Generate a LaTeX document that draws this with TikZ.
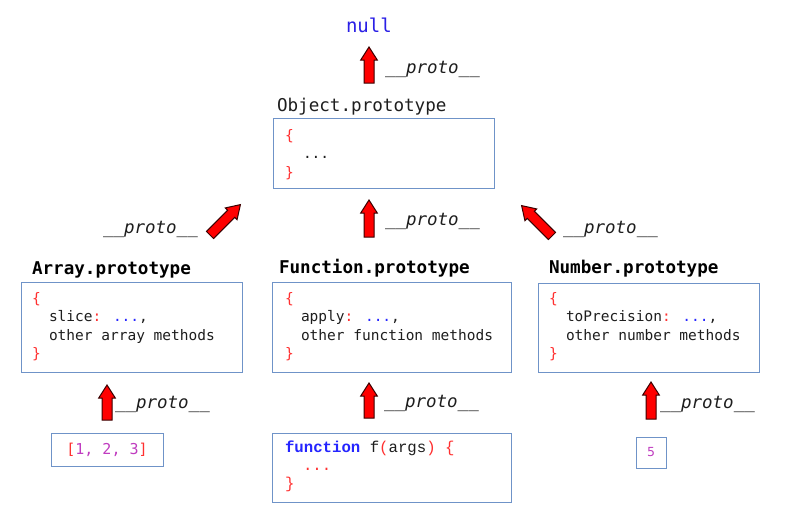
\documentclass[tikz,border=0pt]{standalone}
\usepackage{fontspec}
\setmainfont{DejaVu Sans}
\newfontfamily\mono{DejaVu Sans Mono}
\newfontfamily\cour{Liberation Mono}
\definecolor{boxc}{HTML}{6F93C8}
\definecolor{jred}{HTML}{FF3030}
\definecolor{jblue}{HTML}{2525FF}
\definecolor{nullc}{HTML}{2A1FE6}
\definecolor{jpurp}{HTML}{C03CC0}
\definecolor{txt}{HTML}{1E1E1E}
\definecolor{arrowline}{HTML}{3A0000}
\newcommand\blockarr[3]{%
  \begin{scope}[shift={#1},rotate=#2]
    \draw[arrowst] (0,-5) -- ({#3-13},-5) -- ({#3-13},-8.3) -- (#3,0) -- ({#3-13},8.3) -- ({#3-13},5) -- (0,5) -- cycle;
  \end{scope}}
\begin{document}
\begin{tikzpicture}[x=1pt,y=-1pt,
  every node/.style={inner sep=0pt,outer sep=0pt},
  box/.style={draw=boxc,line width=1pt,fill=white,rectangle,anchor=north west},
  head/.style={font=\mono\fontsize{17.6}{20}\selectfont,anchor=base west,text=txt},
  headb/.style={font=\mono\bfseries\fontsize{17.6}{20}\selectfont,anchor=base west,text=black},
  code/.style={font=\mono\fontsize{14.5}{17}\selectfont,anchor=base west,text=txt},
  ccode/.style={font=\cour\fontsize{15.7}{18}\selectfont,anchor=base west,text=txt},
  proto/.style={font=\mono\itshape\fontsize{17.5}{20}\selectfont,anchor=base west,text=txt},
  arrowst/.style={fill=red,draw=arrowline,line width=1pt,line join=miter}]
\useasboundingbox (0,0) rectangle (790,528);
\fill[white] (0,0) rectangle (790,528);

% null
\node[font=\mono\fontsize{19}{22}\selectfont,anchor=base west,text=nullc] (null) at (346,32) {null};

% Object.prototype
\node[head] (objh) at (277,111) {Object.prototype};
\node[box,minimum width=221,minimum height=70] (objbox) at (273,118) {};
\node[code,text=jred] (o1) at (285,140) {\{};
\node[code] (o2) at (303,158) {...};
\node[code,text=jred] (o3) at (285,177) {\}};

% Array.prototype
\node[headb] (arrh) at (32,274) {Array.prototype};
\node[box,minimum width=221,minimum height=90] (arrbox) at (21,282) {};
\node[code,text=jred] (a1) at (32,303) {\{};
\node[code] (a2) at (49,321.5) {slice\textcolor{jred}{:} \textcolor{jblue}{...},};
\node[code] (a3) at (49,340) {other array methods};
\node[code,text=jred] (a4) at (32,358.5) {\}};

% Function.prototype
\node[headb] (funh) at (279,273) {Function.prototype};
\node[box,minimum width=239,minimum height=90] (funbox) at (272,282) {};
\node[code,text=jred] (f1) at (285,303) {\{};
\node[code] (f2) at (301,321.5) {apply\textcolor{jred}{:} \textcolor{jblue}{...},};
\node[code] (f3) at (301,340) {other function methods};
\node[code,text=jred] (f4) at (285,358.5) {\}};

% Number.prototype
\node[headb] (numh) at (549,273) {Number.prototype};
\node[box,minimum width=221,minimum height=89] (numbox) at (538,283) {};
\node[code,text=jred] (n1) at (549,303) {\{};
\node[code] (n2) at (566,321.5) {toPrecision\textcolor{jred}{:} \textcolor{jblue}{...},};
\node[code] (n3) at (566,340) {other number methods};
\node[code,text=jred] (n4) at (549,358.5) {\}};

% instances
\node[box,minimum width=112,minimum height=33] (arrinst) at (51,433) {};
\node[font=\mono\fontsize{15}{18}\selectfont,text=jpurp] (arrtxt) at (arrinst.center) {\textcolor{jred}{[}1, 2, 3\textcolor{jred}{]}};

\node[box,minimum width=239,minimum height=69] (funinst) at (272,433) {};
\node[ccode] (c1) at (285,452) {\textcolor{jblue}{\bfseries function} f\textcolor{jred}{(}args\textcolor{jred}{)} \textcolor{jred}{\{}};
\node[ccode,text=jred] (c2) at (303,470) {...};
\node[ccode,text=jred] (c3) at (285,488) {\}};

\node[box,minimum width=30,minimum height=31] (numinst) at (636,437) {};
\node[font=\fontsize{12.5}{15}\selectfont,text=jpurp] (numtxt) at (numinst.center) {5};

% arrows
\coordinate (t0) at (369,83);
\coordinate (t1) at (369,237);
\coordinate (t2) at (210,235);
\coordinate (t3) at (552,236);
\coordinate (t4) at (107,420);
\coordinate (t5) at (369,418);
\coordinate (t6) at (651,419);
\blockarr{(t0)}{90}{36}
\blockarr{(t1)}{90}{37}
\blockarr{(t2)}{45}{43}
\blockarr{(t3)}{135}{43}
\blockarr{(t4)}{90}{35}
\blockarr{(t5)}{90}{35}
\blockarr{(t6)}{90}{37}

% labels
\node[proto] (p0) at (385,73) {\_\_proto\_\_};
\node[proto] (p1) at (385,225) {\_\_proto\_\_};
\node[proto] (p2) at (103,233) {\_\_proto\_\_};
\node[proto] (p3) at (563,233) {\_\_proto\_\_};
\node[proto] (p4) at (115,408) {\_\_proto\_\_};
\node[proto] (p5) at (384,407) {\_\_proto\_\_};
\node[proto] (p6) at (660,408) {\_\_proto\_\_};
\end{tikzpicture}
\end{document}
